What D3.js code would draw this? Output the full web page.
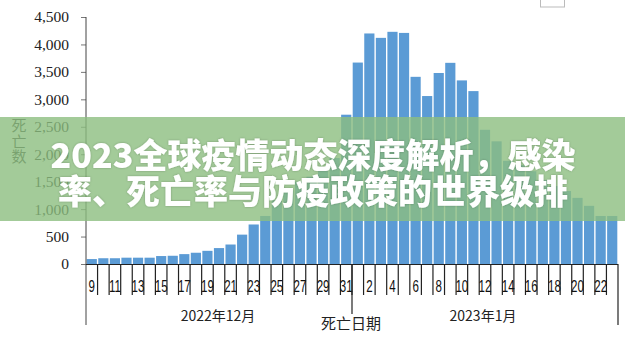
<!DOCTYPE html>
<html>
<head>
<meta charset="utf-8">
<script src="https://cdn.jsdelivr.net/npm/d3@7"></script>
<style>
  html, body { margin: 0; padding: 0; background: #fff; }
  svg { display: block; }
</style>
</head>
<body>
<svg id="chart" width="625" height="339"></svg>
<script>
// ---- data ----
const dates = [
  "2022-12-09","2022-12-10","2022-12-11","2022-12-12","2022-12-13","2022-12-14","2022-12-15","2022-12-16",
  "2022-12-17","2022-12-18","2022-12-19","2022-12-20","2022-12-21","2022-12-22","2022-12-23","2022-12-24",
  "2022-12-25","2022-12-26","2022-12-27","2022-12-28","2022-12-29","2022-12-30","2022-12-31",
  "2023-01-01","2023-01-02","2023-01-03","2023-01-04","2023-01-05","2023-01-06","2023-01-07","2023-01-08",
  "2023-01-09","2023-01-10","2023-01-11","2023-01-12","2023-01-13","2023-01-14","2023-01-15","2023-01-16",
  "2023-01-17","2023-01-18","2023-01-19","2023-01-20","2023-01-21","2023-01-22","2023-01-23"
];
const deaths = [
  90, 105, 105, 115, 115, 115, 145, 150,
  180, 205, 240, 290, 355, 535, 720, 875,
  1160, 1340, 1500, 1590, 1710, 1930, 2720,
  3670, 4200, 4120, 4230, 4210, 3410, 3060, 3480,
  3665, 3345, 3150, 2445, 2235, 1880, 1800, 1690,
  1530, 1420, 1330, 1205, 1060, 875, 875
];
const yTicks = [0, 500, 1000, 1500, 2000, 2500, 3000, 3500, 4000, 4500];
const monthGroups = [
  { label: "2022年12月", first: "2022-12-09", last: "2022-12-31" },
  { label: "2023年1月", first: "2023-01-01", last: "2023-01-23" }
];
const yTitle = ["死", "亡", "数"];
const xTitle = "死亡日期";
const bannerLines = ["2023全球疫情动态深度解析，感染", "率、死亡率与防疫政策的世界级排"];

(function () {
// ---- layout ----
const svg = d3.select("#chart");
const pL = 86, pR = 618, pT = 17, pB = 264;

const x = d3.scaleBand().domain(dates).range([pL, pR]).paddingInner(0.12).paddingOuter(0.06);
const y = d3.scaleLinear().domain([0, 4500]).range([pB, pT]);
const step = x.step();
const boundary = i => pL + i * step;

// bars
svg.append("g").selectAll("rect").data(dates).join("rect")
  .attr("x", d => x(d))
  .attr("width", x.bandwidth())
  .attr("y", (d, i) => y(deaths[i]))
  .attr("height", (d, i) => pB - y(deaths[i]))
  .attr("fill", "#5b9bd5");

// y axis
const yAxis = svg.append("g").attr("transform", `translate(${pL},0)`)
  .call(d3.axisLeft(y).tickValues(yTicks).tickFormat(d3.format(",")).tickSize(5).tickPadding(12));
yAxis.select(".domain").remove();
yAxis.selectAll(".tick line").attr("stroke", "#777");
yAxis.selectAll(".tick text")
  .attr("font-family", "'Liberation Serif', serif")
  .attr("font-size", 15.5)
  .attr("fill", "#222");
svg.append("line").attr("x1", pL).attr("x2", pL).attr("y1", pT).attr("y2", 325)
  .attr("stroke", "#444").attr("stroke-width", 1);

// x axis line
svg.append("line").attr("x1", pL).attr("x2", pR).attr("y1", pB + 0.5).attr("y2", pB + 0.5)
  .attr("stroke", "#222").attr("stroke-width", 1.2);

// category ticks
const bIdx = d3.range(1, dates.length);
svg.append("g").selectAll("line").data(bIdx).join("line")
  .attr("x1", i => boundary(i)).attr("x2", i => boundary(i))
  .attr("y1", pB).attr("y2", 295)
  .attr("stroke", "#222").attr("stroke-width", 1.2);

// day labels (every other)
svg.append("g").selectAll("text").data(dates.filter((d, i) => i % 2 === 0)).join("text")
  .attr("transform", d => `translate(${x(d) + x.bandwidth() / 2},292) scale(0.68,1)`)
  .attr("text-anchor", "middle")
  .attr("font-family", "'Liberation Sans', sans-serif")
  .attr("font-size", 17)
  .attr("fill", "#111")
  .text(d => String(+d.slice(8)));

// group separators
const sepIdx = dates.indexOf(monthGroups[1].first);
svg.append("line").attr("x1", boundary(sepIdx)).attr("x2", boundary(sepIdx))
  .attr("y1", pB).attr("y2", 314).attr("stroke", "#222").attr("stroke-width", 1.2);
svg.append("line").attr("x1", pR).attr("x2", pR)
  .attr("y1", pB).attr("y2", 325).attr("stroke", "#222").attr("stroke-width", 1.2);

// group labels
const groupCx = [218, 483];
svg.append("g").selectAll("text").data(monthGroups).join("text")
  .attr("x", (g, i) => groupCx[i])
  .attr("y", 321)
  .attr("text-anchor", "middle")
  .attr("font-family", "'Noto Sans CJK SC', sans-serif")
  .attr("font-size", 14)
  .attr("fill", "#222")
  .text(g => g.label);

// x title
svg.append("text").attr("x", 351).attr("y", 329).attr("text-anchor", "middle")
  .attr("font-family", "'Noto Sans CJK SC', serif").attr("font-size", 15).attr("fill", "#222")
  .text(xTitle);

// y title
svg.append("g").selectAll("text").data(yTitle).join("text")
  .attr("x", 19).attr("y", (d, i) => 131 + i * 15.5)
  .attr("text-anchor", "middle")
  .attr("font-family", "'Noto Sans CJK SC', serif").attr("font-size", 15).attr("fill", "#333")
  .text(d => d);

// small corner rect
svg.append("rect").attr("x", 540.5).attr("y", -2).attr("width", 24).attr("height", 9)
  .attr("fill", "none").attr("stroke", "#bbb").attr("stroke-width", 1);

// banner
svg.append("rect").attr("x", 0).attr("y", 117).attr("width", 625).attr("height", 104)
  .attr("fill", "rgb(140,190,128)").attr("opacity", 0.8);

const defs = svg.append("defs");
const f = defs.append("filter").attr("id", "sh").attr("x", "-10%").attr("y", "-30%").attr("width", "120%").attr("height", "160%");
f.append("feDropShadow").attr("dx", 0).attr("dy", 0).attr("stdDeviation", 1).attr("flood-color", "#000").attr("flood-opacity", 0.25);

svg.append("g").selectAll("text").data(bannerLines).join("text")
  .attr("x", 313).attr("y", (d, i) => 168 + i * 36)
  .attr("text-anchor", "middle")
  .attr("font-family", "'Noto Sans CJK SC', sans-serif")
  .attr("font-weight", 900)
  .attr("font-size", 34)
  .attr("fill", "#fff")
  .attr("filter", "url(#sh)")
  .text(d => d);
})();
</script>
</body>
</html>
